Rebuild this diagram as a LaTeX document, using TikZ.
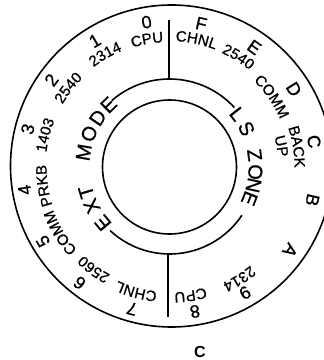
\documentclass[tikz,border=0pt]{standalone}
\usepackage{fontspec}
\setmainfont{Liberation Sans}
\newfontfamily\dialfont{Liberation Sans}[FakeBold=0.8]
\usetikzlibrary{decorations.text}
\newcommand\digfont{\dialfont\fontsize{18}{18}\selectfont}
\newcommand\labfont{\dialfont\fontsize{15}{15}\selectfont}
\newcommand\ringfont{\dialfont\fontsize{20}{20}\selectfont}
% angle, baseline radius, font, text  (text runs clockwise, tops outward)
\newcommand\arctext[4]{%
  \begingroup#3%
  \path[decorate,decoration={text along path,text align=center,text={#4}}]
    ([shift={(#1+50:#2pt)}]c) arc[start angle=#1+50,end angle=#1-50,radius=#2pt];%
  \endgroup}
\begin{document}
\begin{tikzpicture}[x=1pt,y=1pt,
  ring/.style={line width=1.6pt},
  ringletter/.style={font=\ringfont,inner sep=0pt}]
\useasboundingbox (0,0) rectangle (324,360);
\clip (0,0) rectangle (324,360);
\coordinate (c) at (169.5,193);
% circles
\node[draw,circle,ring,minimum size=322pt,inner sep=0pt] (outer) at (171.5,194) {};
\node[draw,circle,ring,minimum size=134pt,inner sep=0pt] (inner) at (c) {};
% middle arcs
\coordinate (tr) at ([shift={(42.5:88pt)}]c);
\coordinate (bl) at ([shift={(226.9:87pt)}]c);
\draw[ring] (tr) arc[start angle=42.5,end angle=131,radius=88pt];
\draw[ring] (bl) arc[start angle=226.9,end angle=326.3,radius=87pt];
% dividing lines
\coordinate (t1) at (169,280);
\coordinate (t2) at (169,340);
\coordinate (b1) at (168,106);
\coordinate (b2) at (168,43);
\draw[ring] (t1) -- (t2);
\draw[ring] (b1) -- (b2);
% middle ring letters
\foreach \ch/\a [count=\i] in {E/220,X/206.7,T/196.7,M/170.3,O/157.5,D/145.5,E/134.5}
  \node[ringletter,rotate=\a-90] (m\i) at ([shift={(\a:87pt)}]c) {\ch};
\foreach \ch/\a [count=\i] in {L/38,S/26.5,Z/8,O/-3.4,N/-12.3,E/-21.5}
  \node[ringletter,rotate=\a-90] (z\i) at ([shift={(\a:86pt)}]c) {\ch};
% digits
\arctext{99}{140.5}{\digfont}{0}
\arctext{77.5}{140.5}{\digfont}{F}
\arctext{54.7}{140.5}{\digfont}{E}
\arctext{32}{140.5}{\digfont}{D}
\arctext{10}{140.5}{\digfont}{C}
\arctext{-13}{140.5}{\digfont}{B}
\arctext{-34.6}{140.5}{\digfont}{A}
\arctext{-59}{140.5}{\digfont}{9}
\arctext{-80}{140.5}{\digfont}{8}
\arctext{-104.8}{140.5}{\digfont}{7}
\arctext{-127.8}{140.5}{\digfont}{6}
\arctext{-149.6}{140.5}{\digfont}{5}
\arctext{-171}{140.5}{\digfont}{4}
\arctext{165}{140.5}{\digfont}{3}
\arctext{143.6}{140.5}{\digfont}{2}
\arctext{120.6}{140.5}{\digfont}{1}
% labels
\arctext{100}{125}{\labfont}{CPU}
\arctext{78}{126}{\labfont}{CHNL}
\arctext{58}{125.5}{\labfont}{2540}
\arctext{34.5}{120.5}{\labfont}{COMM}
\arctext{9}{125}{\labfont}{BACK}
\arctext{10.6}{109}{\labfont}{UP}
\arctext{-58}{127.5}{\labfont}{2314}
\arctext{-80.7}{125.5}{\labfont}{CPU}
\arctext{-105}{125}{\labfont}{CHNL}
\arctext{-126.5}{123}{\labfont}{2560}
\arctext{-149}{124}{\labfont}{COMM}
\arctext{-171.5}{123}{\labfont}{PRKB}
\arctext{165.6}{124}{\labfont}{1403}
\arctext{142}{124}{\labfont}{2540}
\arctext{119.7}{125.5}{\labfont}{2314}
% caption
\node[font=\bfseries\fontsize{16}{16}\selectfont] (caption) at (200,8) {C};
\end{tikzpicture}
\end{document}
